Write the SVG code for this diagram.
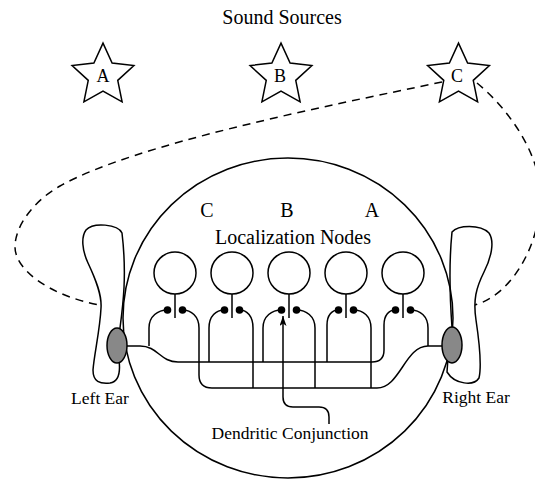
<svg xmlns="http://www.w3.org/2000/svg" width="535" height="482" viewBox="0 0 535 482">
  <style>
    .ln { fill: none; stroke: #000; stroke-width: 1.5; }
    .dash { fill: none; stroke: #000; stroke-width: 1.5; stroke-dasharray: 8 6; }
    .shape { fill: #fff; stroke: #000; stroke-width: 1.5; }
    .drum { fill: #888; stroke: #000; stroke-width: 1.5; }
    .dot { fill: #000; }
    text { font-family: "Liberation Serif", "Times New Roman", serif; fill: #000; text-anchor: middle; }
  </style>
  <defs>
    <polygon id="star" points="0,-32.5 9.11,-12.54 30.91,-10.04 14.74,4.79 19.1,26.29 0,15.5 -19.1,26.29 -14.74,4.79 -30.91,-10.04 -9.11,-12.54"/>
    <marker id="arrow" markerUnits="userSpaceOnUse" markerWidth="11" markerHeight="8" refX="10" refY="3.5" orient="auto">
      <path d="M0,0 L10,3.5 L0,7 L2.5,3.5 z" fill="#000"/>
    </marker>
  </defs>

  <rect width="535" height="482" fill="#fff"/>

  <text x="282" y="24" font-size="20">Sound Sources</text>

  <!-- sound paths from source C to both ears -->
  <g id="connectors-sound">
    <path class="dash" d="M442,82 C322,107 135,144 60,186 C35,200 15,225 15,247 C15,270 50,296 100,305"/>
    <path class="dash" d="M477,83 C510,110 545,160 540,205 C537,250 510,295 475,305"/>
  </g>

  <!-- sources -->
  <g id="source-a">
    <use href="#star" x="103" y="75.6" class="shape"/>
    <text x="103" y="82" font-size="18">A</text>
  </g>
  <g id="source-b">
    <use href="#star" x="281" y="75.6" class="shape"/>
    <text x="280" y="82" font-size="18">B</text>
  </g>
  <g id="source-c">
    <use href="#star" x="458.5" y="75.6" class="shape"/>
    <text x="457" y="82" font-size="18">C</text>
  </g>

  <!-- ears -->
  <g id="left-ear">
    <path class="shape" d="M120,328 C123,305 127,275 122,233 C118,224 93,222 86,230 C81,237 82,250 88,263 C96,280 102,295 101,308 C100,330 94,355 93,370 C93,382 100,384 110,383 C117,382 121,376 119,360 Z"/>
  </g>
  <g id="right-ear">
    <path class="shape" d="M452,327 C450,300 449,262 452,232 C458,225 480,224 489,233 C495,242 491,258 484,272 C476,288 473,300 476,320 C479,340 482,365 479,378 C474,386 455,385 447,372 L448,358 Z"/>
  </g>

  <!-- head -->
  <g id="head">
    <ellipse class="ln" cx="288" cy="318" rx="165" ry="160"/>
  </g>

  <text x="207" y="217" font-size="20">C</text>
  <text x="287" y="217" font-size="20">B</text>
  <text x="372" y="217" font-size="20">A</text>
  <text x="293" y="244" font-size="20">Localization Nodes</text>

  <!-- localization nodes -->
  <g id="node-1">
    <circle class="shape" cx="175" cy="273" r="21"/>
    <line class="ln" x1="175" y1="294" x2="175" y2="318"/>
    <circle class="dot" cx="167.5" cy="310" r="3.8"/>
    <circle class="dot" cx="182.5" cy="310" r="3.8"/>
  </g>
  <g id="node-2">
    <circle class="shape" cx="232" cy="273" r="21"/>
    <line class="ln" x1="232" y1="294" x2="232" y2="318"/>
    <circle class="dot" cx="224.5" cy="310" r="3.8"/>
    <circle class="dot" cx="239.5" cy="310" r="3.8"/>
  </g>
  <g id="node-3">
    <circle class="shape" cx="289" cy="273" r="21"/>
    <line class="ln" x1="289" y1="294" x2="289" y2="318"/>
    <circle class="dot" cx="281.5" cy="310" r="3.8"/>
    <circle class="dot" cx="296.5" cy="310" r="3.8"/>
  </g>
  <g id="node-4">
    <circle class="shape" cx="346" cy="273" r="21"/>
    <line class="ln" x1="346" y1="294" x2="346" y2="318"/>
    <circle class="dot" cx="338.5" cy="310" r="3.8"/>
    <circle class="dot" cx="353.5" cy="310" r="3.8"/>
  </g>
  <g id="node-5">
    <circle class="shape" cx="403" cy="273" r="21"/>
    <line class="ln" x1="403" y1="294" x2="403" y2="318"/>
    <circle class="dot" cx="395.5" cy="310" r="3.8"/>
    <circle class="dot" cx="410.5" cy="310" r="3.8"/>
  </g>

  <!-- dendritic wiring -->
  <g id="connectors">
    <!-- left ear line and upper bus -->
    <path class="ln" d="M127,346 L140,346 C158,346 160,362 178,362 L372,362"/>
    <!-- right ear line and lower bus -->
    <path class="ln" d="M442,346 L428,346 C405,346 400,388 377,388 L212,388"/>
    <!-- left-ear dendrites -->
    <path class="ln" d="M167.5,310 C158,310 149,316 149,328 L149,346"/>
    <path class="ln" d="M224.5,310 C216,310 209,316 209,328 L209,362"/>
    <path class="ln" d="M281.5,310 C272,310 263,316 263,328 L263,362"/>
    <path class="ln" d="M338.5,310 C332,310 327,315 327,325 L327,362"/>
    <path class="ln" d="M395.5,310 C389,310 384,315 384,325 L384,350 Q384,362 372,362"/>
    <!-- right-ear dendrites -->
    <path class="ln" d="M182.5,310 C191,310 199,316 199,328 L199,375 Q199,388 212,388"/>
    <path class="ln" d="M239.5,310 C247,310 253,316 253,328 L253,388"/>
    <path class="ln" d="M296.5,310 C306,310 315,316 315,328 L315,388"/>
    <path class="ln" d="M353.5,310 C363,310 371,316 371,328 L371,388"/>
    <path class="ln" d="M410.5,310 C420,310 428,316 428,328 L428,346"/>
    <!-- pointer to the conjunction -->
    <path class="ln" marker-end="url(#arrow)" d="M329,424 L329,417 Q329,407 319,407 L293,407 Q283,407 283,397 L283,316"/>
  </g>

  <!-- eardrums -->
  <ellipse class="drum" cx="117" cy="345.5" rx="10" ry="17.5"/>
  <ellipse class="drum" cx="452" cy="345" rx="10" ry="18"/>

  <text x="100" y="404" font-size="17.5">Left Ear</text>
  <text x="476" y="403" font-size="17.5">Right Ear</text>
  <text x="290" y="439" font-size="17.5">Dendritic Conjunction</text>
</svg>
